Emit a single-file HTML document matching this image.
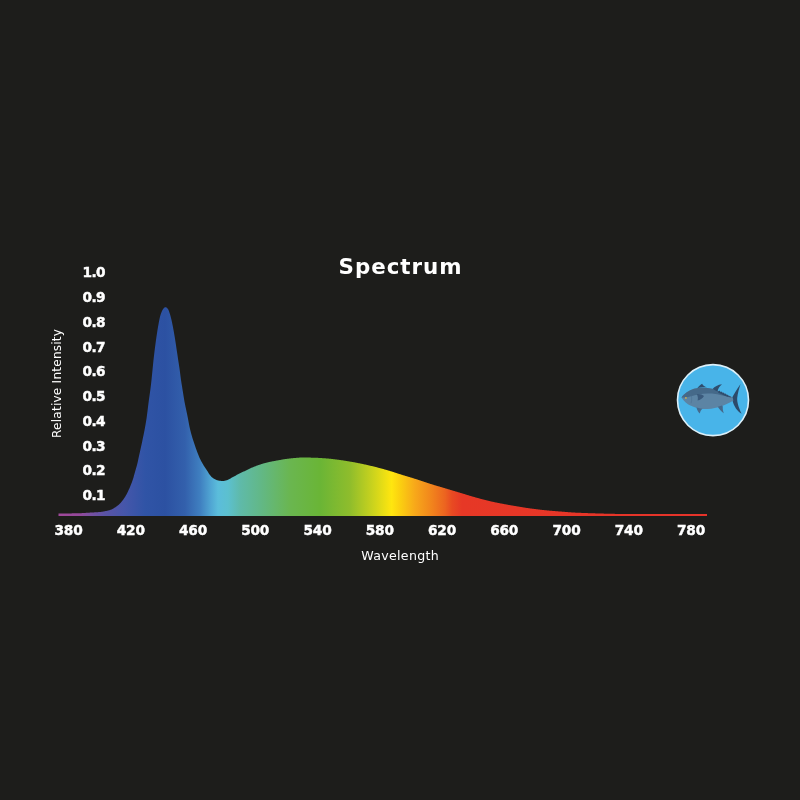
<!DOCTYPE html>
<html lang="en">
<head>
<meta charset="utf-8">
<title>Spectrum</title>
<style>
html,body{margin:0;padding:0;}
body{width:800px;height:800px;background:#1d1d1b;overflow:hidden;position:relative;font-family:"DejaVu Sans","Liberation Sans",sans-serif;color:#fff;}
#chart{position:absolute;left:0;top:0;width:800px;height:800px;}
.t{position:absolute;white-space:nowrap;line-height:1;color:#fff;}
.title{font-family:"DejaVu Sans","Liberation Sans",sans-serif;font-weight:700;font-size:21.4px;letter-spacing:0.95px;}
.xt,.yt{font-family:"DejaVu Sans","Liberation Sans",sans-serif;font-weight:700;font-size:13.7px;text-align:center;-webkit-text-stroke:0.45px #fff;}
.xt{width:40px;top:524px;letter-spacing:-0.2px;}
.yt{width:40px;left:73.7px;letter-spacing:-0.6px;}
.lab{font-family:"DejaVu Sans","Liberation Sans",sans-serif;font-weight:400;font-size:12.6px;}
#wl{letter-spacing:0.32px;}
#ri{font-size:12.1px;letter-spacing:0.22px;}
</style>
</head>
<body>
<svg id="chart" viewBox="0 0 800 800" width="800" height="800">
<defs>
<linearGradient id="sp" gradientUnits="userSpaceOnUse" x1="58" y1="0" x2="707" y2="0">
<stop offset="0.0000" stop-color="#a0489a"/>
<stop offset="0.0339" stop-color="#94499b"/>
<stop offset="0.0493" stop-color="#7a50a2"/>
<stop offset="0.0724" stop-color="#5a53a6"/>
<stop offset="0.1032" stop-color="#4556aa"/>
<stop offset="0.1341" stop-color="#3054a6"/>
<stop offset="0.1649" stop-color="#2c51a2"/>
<stop offset="0.1957" stop-color="#3360ac"/>
<stop offset="0.2188" stop-color="#3f7fc0"/>
<stop offset="0.2342" stop-color="#4fa3d2"/>
<stop offset="0.2465" stop-color="#5bbddb"/>
<stop offset="0.2619" stop-color="#5cc0cf"/>
<stop offset="0.2804" stop-color="#5fbaaa"/>
<stop offset="0.3112" stop-color="#62b888"/>
<stop offset="0.3575" stop-color="#6ab650"/>
<stop offset="0.4037" stop-color="#6ab536"/>
<stop offset="0.4499" stop-color="#8fbd2c"/>
<stop offset="0.4838" stop-color="#c8d21e"/>
<stop offset="0.5139" stop-color="#ffe60f"/>
<stop offset="0.5270" stop-color="#fbd010"/>
<stop offset="0.5501" stop-color="#f7a81a"/>
<stop offset="0.5732" stop-color="#f2881c"/>
<stop offset="0.5963" stop-color="#ec6420"/>
<stop offset="0.6071" stop-color="#e84a22"/>
<stop offset="0.6225" stop-color="#e63826"/>
<stop offset="1.0000" stop-color="#e6332a"/>
</linearGradient>
</defs>
<path fill="url(#sp)" d="M58.5 516 L58.5 513.50 L59.0 513.50 L59.5 513.50 L60.0 513.49 L60.5 513.49 L61.0 513.49 L61.5 513.49 L62.0 513.48 L62.5 513.48 L63.0 513.47 L63.5 513.47 L64.0 513.47 L64.5 513.46 L65.0 513.46 L65.5 513.45 L66.0 513.45 L66.5 513.44 L67.0 513.44 L67.5 513.43 L68.0 513.42 L68.5 513.42 L69.0 513.41 L69.5 513.41 L70.0 513.40 L70.5 513.39 L71.0 513.39 L71.5 513.38 L72.0 513.37 L72.5 513.37 L73.0 513.36 L73.5 513.35 L74.0 513.34 L74.5 513.33 L75.0 513.32 L75.5 513.31 L76.0 513.30 L76.5 513.29 L77.0 513.28 L77.5 513.27 L78.0 513.26 L78.5 513.24 L79.0 513.23 L79.5 513.21 L80.0 513.20 L80.5 513.18 L81.0 513.16 L81.5 513.14 L82.0 513.12 L82.5 513.09 L83.0 513.06 L83.5 513.03 L84.0 513.00 L84.5 512.97 L85.0 512.94 L85.5 512.90 L86.0 512.87 L86.5 512.83 L87.0 512.80 L87.5 512.76 L88.0 512.73 L88.5 512.70 L89.0 512.66 L89.5 512.63 L90.0 512.60 L90.5 512.57 L91.0 512.54 L91.5 512.52 L92.0 512.49 L92.5 512.46 L93.0 512.44 L93.5 512.42 L94.0 512.39 L94.5 512.37 L95.0 512.34 L95.5 512.31 L96.0 512.29 L96.5 512.26 L97.0 512.23 L97.5 512.19 L98.0 512.16 L98.5 512.12 L99.0 512.09 L99.5 512.04 L100.0 512.00 L100.5 511.95 L101.0 511.89 L101.5 511.82 L102.0 511.74 L102.5 511.66 L103.0 511.58 L103.5 511.48 L104.0 511.39 L104.5 511.30 L105.0 511.20 L105.5 511.10 L106.0 511.00 L106.5 510.90 L107.0 510.80 L107.5 510.68 L108.0 510.56 L108.5 510.44 L109.0 510.30 L109.5 510.16 L110.0 510.00 L110.5 509.83 L111.0 509.63 L111.5 509.42 L112.0 509.18 L112.5 508.93 L113.0 508.67 L113.5 508.39 L114.0 508.10 L114.5 507.80 L115.0 507.50 L115.5 507.18 L116.0 506.85 L116.5 506.50 L117.0 506.12 L117.5 505.73 L118.0 505.33 L118.5 504.90 L119.0 504.45 L119.5 503.99 L120.0 503.50 L120.5 502.99 L121.0 502.44 L121.5 501.86 L122.0 501.26 L122.5 500.62 L123.0 499.95 L123.5 499.25 L124.0 498.53 L124.5 497.78 L125.0 497.00 L125.5 496.19 L126.0 495.32 L126.5 494.41 L127.0 493.46 L127.5 492.46 L128.0 491.43 L128.5 490.36 L129.0 489.27 L129.5 488.15 L130.0 487.00 L130.5 485.82 L131.0 484.58 L131.5 483.28 L132.0 481.92 L132.5 480.49 L133.0 479.00 L133.5 477.38 L134.0 475.61 L134.5 473.79 L135.0 472.00 L135.5 470.29 L136.0 468.61 L136.5 466.87 L137.0 465.00 L137.5 462.91 L138.0 460.64 L138.5 458.30 L139.0 456.00 L139.5 453.76 L140.0 451.52 L140.5 449.27 L141.0 447.00 L141.5 444.71 L142.0 442.40 L142.5 440.00 L143.0 437.56 L143.5 435.14 L144.0 432.68 L144.5 430.16 L145.0 427.54 L145.5 424.79 L146.0 421.86 L146.5 418.69 L147.0 415.08 L147.5 411.15 L148.0 407.08 L148.5 403.06 L149.0 399.27 L149.5 395.75 L150.0 392.24 L150.5 388.44 L151.0 384.38 L151.5 380.00 L152.0 375.11 L152.5 370.00 L153.0 364.89 L153.5 360.00 L154.0 355.66 L154.5 351.60 L155.0 347.61 L155.5 343.71 L156.0 340.00 L156.5 336.49 L157.0 333.15 L157.5 330.00 L158.0 327.00 L158.5 324.13 L159.0 321.47 L159.5 319.06 L160.0 316.85 L160.5 315.00 L161.0 313.49 L161.5 312.14 L162.0 310.98 L162.5 310.00 L163.0 309.14 L163.5 308.40 L164.0 307.90 L164.5 307.56 L165.0 307.30 L165.5 307.20 L166.0 307.30 L166.5 307.56 L167.0 307.90 L167.5 308.39 L168.0 309.11 L168.5 310.00 L169.0 311.16 L169.5 312.66 L170.0 314.33 L170.5 316.04 L171.0 317.93 L171.5 320.00 L172.0 322.27 L172.5 324.72 L173.0 327.32 L173.5 330.00 L174.0 332.79 L174.5 335.71 L175.0 338.76 L175.5 341.92 L176.0 345.26 L176.5 348.66 L177.0 352.00 L177.5 355.33 L178.0 358.67 L178.5 361.98 L179.0 365.24 L179.5 368.59 L180.0 372.25 L180.5 376.24 L181.0 380.00 L181.5 383.28 L182.0 386.34 L182.5 389.38 L183.0 392.55 L183.5 395.77 L184.0 398.85 L184.5 401.63 L185.0 404.21 L185.5 406.66 L186.0 409.03 L186.5 411.39 L187.0 413.77 L187.5 416.26 L188.0 418.87 L188.5 421.52 L189.0 424.14 L189.5 426.64 L190.0 428.95 L190.5 431.00 L191.0 432.92 L191.5 434.73 L192.0 436.47 L192.5 438.13 L193.0 439.72 L193.5 441.27 L194.0 442.78 L194.5 444.26 L195.0 445.73 L195.5 447.19 L196.0 448.63 L196.5 450.05 L197.0 451.43 L197.5 452.78 L198.0 454.08 L198.5 455.33 L199.0 456.54 L199.5 457.68 L200.0 458.75 L200.5 459.77 L201.0 460.75 L201.5 461.69 L202.0 462.59 L202.5 463.47 L203.0 464.32 L203.5 465.14 L204.0 465.95 L204.5 466.74 L205.0 467.51 L205.5 468.27 L206.0 469.03 L206.5 469.78 L207.0 470.55 L207.5 471.33 L208.0 472.12 L208.5 472.90 L209.0 473.66 L209.5 474.40 L210.0 475.10 L210.5 475.76 L211.0 476.36 L211.5 476.90 L212.0 477.37 L212.5 477.75 L213.0 478.08 L213.5 478.40 L214.0 478.71 L214.5 479.00 L215.0 479.27 L215.5 479.52 L216.0 479.75 L216.5 479.96 L217.0 480.15 L217.5 480.31 L218.0 480.45 L218.5 480.56 L219.0 480.64 L219.5 480.72 L220.0 480.80 L220.5 480.86 L221.0 480.92 L221.5 480.96 L222.0 480.99 L222.5 481.00 L223.0 480.99 L223.5 480.94 L224.0 480.88 L224.5 480.79 L225.0 480.68 L225.5 480.56 L226.0 480.43 L226.5 480.29 L227.0 480.15 L227.5 480.00 L228.0 479.83 L228.5 479.61 L229.0 479.36 L229.5 479.08 L230.0 478.78 L230.5 478.47 L231.0 478.15 L231.5 477.83 L232.0 477.53 L232.5 477.25 L233.0 476.98 L233.5 476.71 L234.0 476.44 L234.5 476.17 L235.0 475.91 L235.5 475.64 L236.0 475.38 L236.5 475.12 L237.0 474.86 L237.5 474.60 L238.0 474.34 L238.5 474.09 L239.0 473.84 L239.5 473.59 L240.0 473.34 L240.5 473.09 L241.0 472.85 L241.5 472.60 L242.0 472.35 L242.5 472.11 L243.0 471.87 L243.5 471.62 L244.0 471.38 L244.5 471.13 L245.0 470.89 L245.5 470.64 L246.0 470.39 L246.5 470.15 L247.0 469.91 L247.5 469.66 L248.0 469.42 L248.5 469.19 L249.0 468.95 L249.5 468.73 L250.0 468.50 L250.5 468.28 L251.0 468.06 L251.5 467.84 L252.0 467.62 L252.5 467.41 L253.0 467.20 L253.5 466.99 L254.0 466.78 L254.5 466.58 L255.0 466.38 L255.5 466.19 L256.0 465.99 L256.5 465.81 L257.0 465.62 L257.5 465.43 L258.0 465.25 L258.5 465.07 L259.0 464.90 L259.5 464.72 L260.0 464.55 L260.5 464.38 L261.0 464.22 L261.5 464.06 L262.0 463.90 L262.5 463.75 L263.0 463.60 L263.5 463.46 L264.0 463.31 L264.5 463.17 L265.0 463.03 L265.5 462.90 L266.0 462.77 L266.5 462.64 L267.0 462.51 L267.5 462.39 L268.0 462.27 L268.5 462.16 L269.0 462.04 L269.5 461.94 L270.0 461.83 L270.5 461.74 L271.0 461.64 L271.5 461.54 L272.0 461.45 L272.5 461.36 L273.0 461.27 L273.5 461.18 L274.0 461.09 L274.5 460.99 L275.0 460.90 L275.5 460.81 L276.0 460.71 L276.5 460.62 L277.0 460.52 L277.5 460.43 L278.0 460.34 L278.5 460.24 L279.0 460.15 L279.5 460.06 L280.0 459.97 L280.5 459.88 L281.0 459.79 L281.5 459.71 L282.0 459.62 L282.5 459.53 L283.0 459.45 L283.5 459.36 L284.0 459.28 L284.5 459.19 L285.0 459.11 L285.5 459.03 L286.0 458.96 L286.5 458.88 L287.0 458.82 L287.5 458.75 L288.0 458.69 L288.5 458.63 L289.0 458.57 L289.5 458.51 L290.0 458.46 L290.5 458.40 L291.0 458.35 L291.5 458.30 L292.0 458.26 L292.5 458.21 L293.0 458.16 L293.5 458.12 L294.0 458.08 L294.5 458.04 L295.0 457.99 L295.5 457.94 L296.0 457.90 L296.5 457.85 L297.0 457.81 L297.5 457.76 L298.0 457.72 L298.5 457.68 L299.0 457.64 L299.5 457.61 L300.0 457.58 L300.5 457.55 L301.0 457.53 L301.5 457.51 L302.0 457.50 L302.5 457.50 L303.0 457.50 L303.5 457.50 L304.0 457.51 L304.5 457.51 L305.0 457.51 L305.5 457.52 L306.0 457.53 L306.5 457.53 L307.0 457.54 L307.5 457.55 L308.0 457.56 L308.5 457.57 L309.0 457.58 L309.5 457.60 L310.0 457.61 L310.5 457.62 L311.0 457.63 L311.5 457.65 L312.0 457.66 L312.5 457.68 L313.0 457.69 L313.5 457.71 L314.0 457.72 L314.5 457.74 L315.0 457.75 L315.5 457.77 L316.0 457.78 L316.5 457.80 L317.0 457.82 L317.5 457.84 L318.0 457.87 L318.5 457.89 L319.0 457.92 L319.5 457.94 L320.0 457.97 L320.5 458.00 L321.0 458.03 L321.5 458.06 L322.0 458.09 L322.5 458.13 L323.0 458.16 L323.5 458.20 L324.0 458.23 L324.5 458.27 L325.0 458.31 L325.5 458.34 L326.0 458.38 L326.5 458.42 L327.0 458.46 L327.5 458.50 L328.0 458.54 L328.5 458.58 L329.0 458.63 L329.5 458.68 L330.0 458.73 L330.5 458.78 L331.0 458.84 L331.5 458.89 L332.0 458.95 L332.5 459.01 L333.0 459.07 L333.5 459.13 L334.0 459.19 L334.5 459.26 L335.0 459.32 L335.5 459.39 L336.0 459.45 L336.5 459.52 L337.0 459.59 L337.5 459.66 L338.0 459.73 L338.5 459.79 L339.0 459.86 L339.5 459.93 L340.0 460.00 L340.5 460.07 L341.0 460.14 L341.5 460.21 L342.0 460.28 L342.5 460.36 L343.0 460.43 L343.5 460.51 L344.0 460.58 L344.5 460.66 L345.0 460.74 L345.5 460.82 L346.0 460.90 L346.5 460.98 L347.0 461.06 L347.5 461.14 L348.0 461.22 L348.5 461.31 L349.0 461.39 L349.5 461.48 L350.0 461.56 L350.5 461.65 L351.0 461.74 L351.5 461.82 L352.0 461.91 L352.5 462.00 L353.0 462.09 L353.5 462.18 L354.0 462.27 L354.5 462.36 L355.0 462.46 L355.5 462.55 L356.0 462.65 L356.5 462.74 L357.0 462.84 L357.5 462.94 L358.0 463.04 L358.5 463.14 L359.0 463.24 L359.5 463.34 L360.0 463.44 L360.5 463.54 L361.0 463.65 L361.5 463.75 L362.0 463.86 L362.5 463.96 L363.0 464.07 L363.5 464.18 L364.0 464.28 L364.5 464.39 L365.0 464.50 L365.5 464.61 L366.0 464.72 L366.5 464.83 L367.0 464.94 L367.5 465.06 L368.0 465.17 L368.5 465.29 L369.0 465.40 L369.5 465.52 L370.0 465.64 L370.5 465.76 L371.0 465.88 L371.5 466.00 L372.0 466.12 L372.5 466.24 L373.0 466.36 L373.5 466.49 L374.0 466.61 L374.5 466.74 L375.0 466.86 L375.5 466.99 L376.0 467.12 L376.5 467.24 L377.0 467.37 L377.5 467.50 L378.0 467.63 L378.5 467.76 L379.0 467.89 L379.5 468.02 L380.0 468.16 L380.5 468.29 L381.0 468.43 L381.5 468.56 L382.0 468.70 L382.5 468.84 L383.0 468.98 L383.5 469.12 L384.0 469.26 L384.5 469.40 L385.0 469.54 L385.5 469.68 L386.0 469.83 L386.5 469.97 L387.0 470.12 L387.5 470.26 L388.0 470.41 L388.5 470.55 L389.0 470.70 L389.5 470.85 L390.0 471.00 L390.5 471.15 L391.0 471.30 L391.5 471.46 L392.0 471.61 L392.5 471.77 L393.0 471.93 L393.5 472.09 L394.0 472.25 L394.5 472.41 L395.0 472.57 L395.5 472.73 L396.0 472.90 L396.5 473.06 L397.0 473.23 L397.5 473.39 L398.0 473.55 L398.5 473.72 L399.0 473.88 L399.5 474.04 L400.0 474.20 L400.5 474.37 L401.0 474.53 L401.5 474.69 L402.0 474.84 L402.5 475.00 L403.0 475.16 L403.5 475.31 L404.0 475.46 L404.5 475.62 L405.0 475.77 L405.5 475.92 L406.0 476.07 L406.5 476.22 L407.0 476.37 L407.5 476.52 L408.0 476.67 L408.5 476.82 L409.0 476.97 L409.5 477.12 L410.0 477.27 L410.5 477.42 L411.0 477.57 L411.5 477.72 L412.0 477.87 L412.5 478.02 L413.0 478.18 L413.5 478.33 L414.0 478.49 L414.5 478.64 L415.0 478.80 L415.5 478.96 L416.0 479.12 L416.5 479.28 L417.0 479.44 L417.5 479.61 L418.0 479.77 L418.5 479.94 L419.0 480.10 L419.5 480.27 L420.0 480.44 L420.5 480.60 L421.0 480.77 L421.5 480.94 L422.0 481.11 L422.5 481.28 L423.0 481.45 L423.5 481.62 L424.0 481.78 L424.5 481.95 L425.0 482.12 L425.5 482.29 L426.0 482.45 L426.5 482.62 L427.0 482.78 L427.5 482.95 L428.0 483.11 L428.5 483.27 L429.0 483.43 L429.5 483.59 L430.0 483.75 L430.5 483.91 L431.0 484.06 L431.5 484.22 L432.0 484.37 L432.5 484.52 L433.0 484.68 L433.5 484.83 L434.0 484.98 L434.5 485.13 L435.0 485.28 L435.5 485.43 L436.0 485.58 L436.5 485.73 L437.0 485.88 L437.5 486.03 L438.0 486.17 L438.5 486.32 L439.0 486.47 L439.5 486.62 L440.0 486.77 L440.5 486.91 L441.0 487.06 L441.5 487.21 L442.0 487.36 L442.5 487.50 L443.0 487.65 L443.5 487.80 L444.0 487.95 L444.5 488.10 L445.0 488.25 L445.5 488.40 L446.0 488.55 L446.5 488.70 L447.0 488.85 L447.5 489.00 L448.0 489.15 L448.5 489.30 L449.0 489.45 L449.5 489.60 L450.0 489.75 L450.5 489.90 L451.0 490.05 L451.5 490.20 L452.0 490.35 L452.5 490.50 L453.0 490.65 L453.5 490.80 L454.0 490.95 L454.5 491.10 L455.0 491.25 L455.5 491.40 L456.0 491.55 L456.5 491.70 L457.0 491.85 L457.5 492.00 L458.0 492.15 L458.5 492.30 L459.0 492.45 L459.5 492.60 L460.0 492.75 L460.5 492.90 L461.0 493.05 L461.5 493.20 L462.0 493.35 L462.5 493.51 L463.0 493.66 L463.5 493.81 L464.0 493.97 L464.5 494.12 L465.0 494.27 L465.5 494.42 L466.0 494.58 L466.5 494.73 L467.0 494.88 L467.5 495.04 L468.0 495.19 L468.5 495.34 L469.0 495.49 L469.5 495.64 L470.0 495.79 L470.5 495.94 L471.0 496.09 L471.5 496.24 L472.0 496.39 L472.5 496.53 L473.0 496.68 L473.5 496.82 L474.0 496.97 L474.5 497.11 L475.0 497.25 L475.5 497.39 L476.0 497.53 L476.5 497.67 L477.0 497.81 L477.5 497.95 L478.0 498.09 L478.5 498.23 L479.0 498.36 L479.5 498.50 L480.0 498.64 L480.5 498.78 L481.0 498.91 L481.5 499.05 L482.0 499.18 L482.5 499.32 L483.0 499.45 L483.5 499.58 L484.0 499.71 L484.5 499.84 L485.0 499.97 L485.5 500.10 L486.0 500.23 L486.5 500.35 L487.0 500.48 L487.5 500.60 L488.0 500.72 L488.5 500.85 L489.0 500.97 L489.5 501.08 L490.0 501.20 L490.5 501.32 L491.0 501.43 L491.5 501.54 L492.0 501.65 L492.5 501.76 L493.0 501.87 L493.5 501.98 L494.0 502.09 L494.5 502.19 L495.0 502.30 L495.5 502.40 L496.0 502.50 L496.5 502.60 L497.0 502.71 L497.5 502.81 L498.0 502.91 L498.5 503.01 L499.0 503.10 L499.5 503.20 L500.0 503.30 L500.5 503.40 L501.0 503.49 L501.5 503.59 L502.0 503.68 L502.5 503.78 L503.0 503.87 L503.5 503.97 L504.0 504.06 L504.5 504.15 L505.0 504.24 L505.5 504.34 L506.0 504.43 L506.5 504.52 L507.0 504.61 L507.5 504.70 L508.0 504.79 L508.5 504.88 L509.0 504.96 L509.5 505.05 L510.0 505.14 L510.5 505.23 L511.0 505.31 L511.5 505.40 L512.0 505.49 L512.5 505.57 L513.0 505.66 L513.5 505.74 L514.0 505.83 L514.5 505.92 L515.0 506.00 L515.5 506.08 L516.0 506.17 L516.5 506.25 L517.0 506.34 L517.5 506.42 L518.0 506.51 L518.5 506.59 L519.0 506.68 L519.5 506.76 L520.0 506.85 L520.5 506.93 L521.0 507.01 L521.5 507.10 L522.0 507.18 L522.5 507.26 L523.0 507.34 L523.5 507.42 L524.0 507.50 L524.5 507.58 L525.0 507.66 L525.5 507.74 L526.0 507.82 L526.5 507.89 L527.0 507.97 L527.5 508.04 L528.0 508.12 L528.5 508.19 L529.0 508.26 L529.5 508.33 L530.0 508.40 L530.5 508.47 L531.0 508.54 L531.5 508.60 L532.0 508.67 L532.5 508.74 L533.0 508.80 L533.5 508.87 L534.0 508.93 L534.5 509.00 L535.0 509.06 L535.5 509.12 L536.0 509.18 L536.5 509.25 L537.0 509.31 L537.5 509.37 L538.0 509.43 L538.5 509.49 L539.0 509.55 L539.5 509.60 L540.0 509.66 L540.5 509.72 L541.0 509.78 L541.5 509.83 L542.0 509.89 L542.5 509.94 L543.0 509.99 L543.5 510.05 L544.0 510.10 L544.5 510.15 L545.0 510.20 L545.5 510.25 L546.0 510.30 L546.5 510.35 L547.0 510.40 L547.5 510.44 L548.0 510.49 L548.5 510.54 L549.0 510.58 L549.5 510.63 L550.0 510.67 L550.5 510.72 L551.0 510.76 L551.5 510.80 L552.0 510.85 L552.5 510.89 L553.0 510.93 L553.5 510.97 L554.0 511.02 L554.5 511.06 L555.0 511.10 L555.5 511.14 L556.0 511.18 L556.5 511.22 L557.0 511.26 L557.5 511.30 L558.0 511.34 L558.5 511.38 L559.0 511.42 L559.5 511.46 L560.0 511.50 L560.5 511.54 L561.0 511.58 L561.5 511.62 L562.0 511.66 L562.5 511.70 L563.0 511.74 L563.5 511.78 L564.0 511.82 L564.5 511.86 L565.0 511.90 L565.5 511.94 L566.0 511.98 L566.5 512.02 L567.0 512.06 L567.5 512.10 L568.0 512.14 L568.5 512.18 L569.0 512.22 L569.5 512.25 L570.0 512.29 L570.5 512.32 L571.0 512.36 L571.5 512.39 L572.0 512.42 L572.5 512.46 L573.0 512.49 L573.5 512.52 L574.0 512.55 L574.5 512.57 L575.0 512.60 L575.5 512.63 L576.0 512.65 L576.5 512.68 L577.0 512.70 L577.5 512.72 L578.0 512.75 L578.5 512.77 L579.0 512.79 L579.5 512.81 L580.0 512.83 L580.5 512.85 L581.0 512.87 L581.5 512.89 L582.0 512.91 L582.5 512.93 L583.0 512.95 L583.5 512.97 L584.0 512.99 L584.5 513.01 L585.0 513.03 L585.5 513.04 L586.0 513.06 L586.5 513.08 L587.0 513.10 L587.5 513.11 L588.0 513.13 L588.5 513.15 L589.0 513.17 L589.5 513.18 L590.0 513.20 L590.5 513.22 L591.0 513.23 L591.5 513.25 L592.0 513.27 L592.5 513.28 L593.0 513.30 L593.5 513.32 L594.0 513.33 L594.5 513.35 L595.0 513.37 L595.5 513.38 L596.0 513.40 L596.5 513.41 L597.0 513.43 L597.5 513.44 L598.0 513.46 L598.5 513.47 L599.0 513.49 L599.5 513.50 L600.0 513.52 L600.5 513.53 L601.0 513.55 L601.5 513.56 L602.0 513.57 L602.5 513.59 L603.0 513.60 L603.5 513.61 L604.0 513.63 L604.5 513.64 L605.0 513.65 L605.5 513.66 L606.0 513.67 L606.5 513.69 L607.0 513.70 L607.5 513.71 L608.0 513.72 L608.5 513.74 L609.0 513.75 L609.5 513.76 L610.0 513.77 L610.5 513.79 L611.0 513.80 L611.5 513.81 L612.0 513.82 L612.5 513.83 L613.0 513.84 L613.5 513.85 L614.0 513.86 L614.5 513.87 L615.0 513.88 L615.5 513.89 L616.0 513.90 L616.5 513.91 L617.0 513.92 L617.5 513.92 L618.0 513.93 L618.5 513.94 L619.0 513.94 L619.5 513.95 L620.0 513.95 L620.5 513.95 L621.0 513.96 L621.5 513.96 L622.0 513.96 L622.5 513.97 L623.0 513.97 L623.5 513.97 L624.0 513.98 L624.5 513.98 L625.0 513.98 L625.5 513.99 L626.0 513.99 L626.5 513.99 L627.0 514.00 L627.5 514.00 L628.0 514.00 L628.5 514.00 L629.0 514.01 L629.5 514.01 L630.0 514.01 L630.5 514.02 L631.0 514.02 L631.5 514.02 L632.0 514.02 L632.5 514.03 L633.0 514.03 L633.5 514.03 L634.0 514.03 L634.5 514.04 L635.0 514.04 L635.5 514.04 L636.0 514.04 L636.5 514.05 L637.0 514.05 L637.5 514.05 L638.0 514.05 L638.5 514.05 L639.0 514.06 L639.5 514.06 L640.0 514.06 L640.5 514.06 L641.0 514.06 L641.5 514.07 L642.0 514.07 L642.5 514.07 L643.0 514.07 L643.5 514.07 L644.0 514.07 L644.5 514.08 L645.0 514.08 L645.5 514.08 L646.0 514.08 L646.5 514.08 L647.0 514.08 L647.5 514.08 L648.0 514.09 L648.5 514.09 L649.0 514.09 L649.5 514.09 L650.0 514.09 L650.5 514.09 L651.0 514.09 L651.5 514.09 L652.0 514.09 L652.5 514.09 L653.0 514.09 L653.5 514.10 L654.0 514.10 L654.5 514.10 L655.0 514.10 L655.5 514.10 L656.0 514.10 L656.5 514.10 L657.0 514.10 L657.5 514.10 L658.0 514.10 L658.5 514.10 L659.0 514.10 L659.5 514.10 L660.0 514.10 L660.5 514.10 L661.0 514.10 L661.5 514.10 L662.0 514.10 L662.5 514.10 L663.0 514.10 L663.5 514.10 L664.0 514.10 L664.5 514.10 L665.0 514.10 L665.5 514.10 L666.0 514.10 L666.5 514.10 L667.0 514.10 L667.5 514.10 L668.0 514.10 L668.5 514.10 L669.0 514.10 L669.5 514.10 L670.0 514.10 L670.5 514.10 L671.0 514.10 L671.5 514.10 L672.0 514.10 L672.5 514.10 L673.0 514.10 L673.5 514.10 L674.0 514.10 L674.5 514.10 L675.0 514.10 L675.5 514.10 L676.0 514.10 L676.5 514.10 L677.0 514.10 L677.5 514.10 L678.0 514.10 L678.5 514.10 L679.0 514.10 L679.5 514.10 L680.0 514.10 L680.5 514.10 L681.0 514.10 L681.5 514.10 L682.0 514.10 L682.5 514.10 L683.0 514.10 L683.5 514.10 L684.0 514.10 L684.5 514.10 L685.0 514.10 L685.5 514.10 L686.0 514.10 L686.5 514.10 L687.0 514.10 L687.5 514.10 L688.0 514.10 L688.5 514.10 L689.0 514.10 L689.5 514.10 L690.0 514.10 L690.5 514.10 L691.0 514.10 L691.5 514.10 L692.0 514.10 L692.5 514.10 L693.0 514.10 L693.5 514.10 L694.0 514.10 L694.5 514.10 L695.0 514.10 L695.5 514.10 L696.0 514.10 L696.5 514.10 L697.0 514.10 L697.5 514.10 L698.0 514.10 L698.5 514.10 L699.0 514.10 L699.5 514.10 L700.0 514.10 L700.5 514.10 L701.0 514.10 L701.5 514.10 L702.0 514.10 L702.5 514.10 L703.0 514.10 L703.5 514.10 L704.0 514.10 L704.5 514.10 L705.0 514.10 L705.5 514.10 L706.0 514.10 L706.5 514.10 L707.0 514.10 L707 516 Z"/>
<g id="fish">
<circle cx="713" cy="400.1" r="35.5" fill="#48b4e9" stroke="#dcf0fa" stroke-width="1.6"/>
<path d="M732.2 397.4 C733.8 394.6 736.2 390 740.6 384 C739.4 387.6 737.6 393.4 737.2 398 C737 402 738.2 406.5 741.6 413.8 C737.4 411.6 733.8 406 732.6 400.8 Z" fill="#2c4a6a"/>
<path d="M681.5 397.4 C684 393.6 689 390.4 694 388.8 C700 387.2 706.5 387.4 712 388.8 C719 390.6 726 394.2 732.6 397.6 L733.4 400.4 C729 403 723.5 405.8 718.3 407.2 C713 408.7 707 409.2 702 409 C698 408.7 694 407.2 691 405.8 C687.5 404.2 683.5 401 681.5 397.4 Z" fill="#5c84a4"/>
<path d="M681.5 397.4 C684 393.6 689 390.4 694 388.8 C700 387.2 706.5 387.4 712 388.8 C719 390.6 726 394.2 732.6 397.6 C726 396.6 719 394.4 712 393.6 C704 393 697 394.2 691 396.2 C687.5 397.4 684 397.8 681.5 397.4 Z" fill="#456989"/>
<path d="M697.2 388.2 C699 386.2 700.6 384.4 702.1 383.8 C703 385.6 704.8 386.8 707 387.4 C704 387.2 700 387.4 697.2 388.2 Z" fill="#2f4d6e"/>
<path d="M712.6 389 C714.5 386.6 718 384.6 722 384.2 C719.8 385.8 718.2 388.4 717.4 391.4 Z" fill="#2f4d6e"/>
<path d="M718.2 391.4 L719.8 390.6 L720.2 392.2 L721.8 391.6 L722.2 393.2 L723.8 392.6 L724.2 394.2 L725.8 393.6 L726.2 395.2 L727.8 394.8 L728.2 396.2 L730 396.2 L731 397.6 C726 396.6 722 394.6 718.2 392.8 Z" fill="#2f4d6e"/>
<path d="M696.4 407.6 C697 410 698.4 412.4 699.9 413.6 C700.2 411.6 701 409.8 702.4 408.8 Z" fill="#46698b"/>
<path d="M717.8 406.8 C719.6 409.6 721.6 412 723.8 413.2 C723 411 722.6 408.6 722.8 406.4 L722 405.6 Z" fill="#46698b"/>
<path d="M696.6 394 C699.5 393.6 702.5 394.4 704 396 C702.6 398.6 700 400.2 697.6 400.4 C698.2 398.4 698 396 696.6 394 Z" fill="#3a5a7c"/>
<path d="M690.2 392.6 C691.8 395.4 692.2 399.6 691 403.4" fill="none" stroke="#496d8f" stroke-width="0.5"/>
<circle cx="685.9" cy="397.9" r="0.85" fill="#d9b24a"/>
</g>
</svg>
<div class="t title" id="title" style="left:338.6px;top:255.8px;">Spectrum</div>
<div class="t yt" style="top:266.3px;">1.0</div>
<div class="t yt" style="top:291.1px;">0.9</div>
<div class="t yt" style="top:315.8px;">0.8</div>
<div class="t yt" style="top:340.6px;">0.7</div>
<div class="t yt" style="top:365.3px;">0.6</div>
<div class="t yt" style="top:390.1px;">0.5</div>
<div class="t yt" style="top:414.9px;">0.4</div>
<div class="t yt" style="top:439.6px;">0.3</div>
<div class="t yt" style="top:464.4px;">0.2</div>
<div class="t yt" style="top:489.1px;">0.1</div>
<div class="t xt" style="left:48.5px;">380</div>
<div class="t xt" style="left:110.8px;">420</div>
<div class="t xt" style="left:173.0px;">460</div>
<div class="t xt" style="left:235.2px;">500</div>
<div class="t xt" style="left:297.5px;">540</div>
<div class="t xt" style="left:359.8px;">580</div>
<div class="t xt" style="left:422.0px;">620</div>
<div class="t xt" style="left:484.2px;">660</div>
<div class="t xt" style="left:546.5px;">700</div>
<div class="t xt" style="left:608.8px;">740</div>
<div class="t xt" style="left:671.0px;">780</div>
<div class="t lab" id="wl" style="left:361.2px;top:549.8px;">Wavelength</div>
<div class="t lab" id="ri" style="left:50.9px;top:437.6px;transform-origin:0 0;transform:rotate(-90deg);">Relative Intensity</div>
</body>
</html>
